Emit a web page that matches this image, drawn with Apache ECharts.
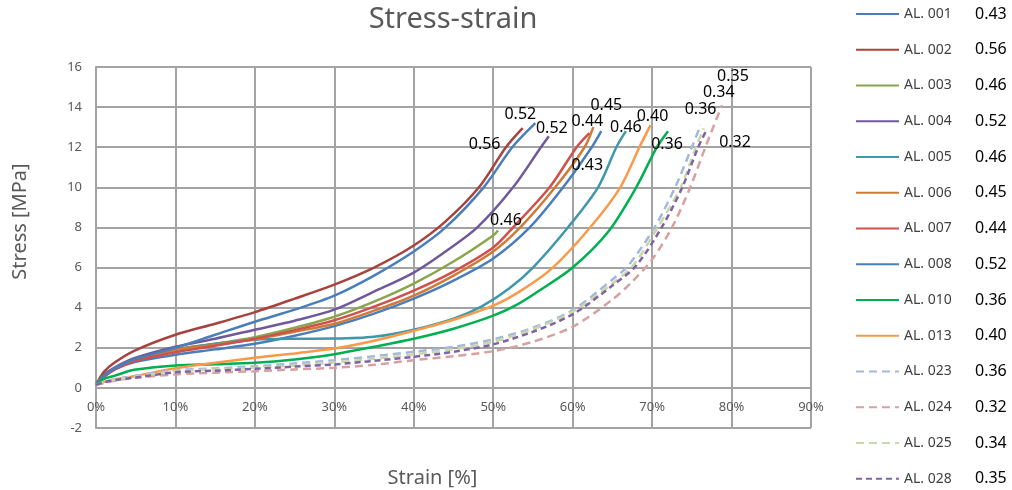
<!DOCTYPE html>
<html>
<head>
<meta charset="utf-8">
<script src="https://cdn.jsdelivr.net/npm/echarts@6/dist/echarts.min.js"></script>
<style>html,body{margin:0;padding:0;background:#fff}#chart{width:1012px;height:490px}</style>
</head>
<body>
<div id="chart"></div>
<script>
// ---- data (strain %, stress MPa) ----
const seriesNames = ['AL. 001','AL. 002','AL. 003','AL. 004','AL. 005','AL. 006','AL. 007','AL. 008','AL. 010','AL. 013','AL. 023','AL. 024','AL. 025','AL. 028'];
const labelValues = ['0.43','0.56','0.46','0.52','0.46','0.45','0.44','0.52','0.36','0.40','0.36','0.32','0.34','0.35'];

const AL001 = [[0,0.15],[1,0.55],[2.5,0.95],[5,1.3],[10,1.65],[15,1.92],[20,2.2],[25,2.6],[30,3.08],[35,3.7],[40,4.45],[45,5.35],[50,6.45],[54.6,8.0],[58.8,10.0],[62.4,12.0],[63.6,12.8]];
const AL002 = [[0,0.15],[1,0.8],[2.3,1.25],[4.8,1.85],[10,2.65],[15,3.2],[20,3.78],[25,4.45],[30,5.15],[35,6.0],[40,7.1],[44,8.3],[48.2,10.0],[51.6,12.0],[53.7,12.95]];
const AL003 = [[0,0.15],[1,0.6],[2.5,1.0],[5,1.4],[10,1.92],[15,2.2],[20,2.53],[25,3.0],[30,3.55],[35,4.3],[40,5.2],[45,6.3],[50,7.6],[50.6,7.85]];
const AL004 = [[0,0.15],[1,0.65],[2.5,1.05],[5,1.5],[10,2.05],[15,2.45],[20,2.9],[25,3.35],[30,3.9],[35,4.8],[40,5.75],[44,6.8],[48,8.0],[52.5,10.0],[56,12.0],[57,12.55]];
const AL005 = [[0,0.15],[1,0.6],[2.5,1.0],[5,1.4],[10,1.9],[15,2.2],[20,2.4],[25,2.45],[30,2.46],[35,2.55],[40,2.9],[45,3.45],[48.5,4.05],[52,4.95],[55,6.0],[59.4,8.0],[63.2,10.0],[65.5,12.0],[66.7,12.8]];
const AL006 = [[0,0.15],[1,0.6],[2.5,1.0],[5,1.4],[10,1.9],[15,2.15],[20,2.42],[25,2.8],[30,3.2],[35,3.85],[40,4.6],[45,5.6],[50,6.8],[53.4,8.0],[57.8,10.0],[61.5,12.0],[62.6,13.0]];
const AL007 = [[0,0.15],[1,0.55],[2.5,0.95],[5,1.35],[10,1.78],[15,2.1],[20,2.45],[25,2.88],[30,3.37],[35,4.05],[40,4.85],[45,5.8],[50,7.0],[52.5,8.0],[57.1,10.0],[60.5,12.0],[62.1,12.7]];
const AL008 = [[0,0.15],[1,0.6],[2.5,1.0],[5,1.45],[10,2.0],[15,2.65],[20,3.3],[25,3.9],[30,4.6],[35,5.6],[40,6.8],[44,8.0],[48.8,10.0],[52.4,12.0],[55.3,13.2]];
const AL010 = [[0,0.15],[1,0.45],[2.3,0.6],[4.8,0.9],[10,1.12],[15,1.18],[20,1.25],[25,1.42],[30,1.68],[35,2.05],[40,2.45],[45,2.95],[50,3.6],[53,4.15],[56,4.9],[60,6.0],[64.5,7.8],[68,10.0],[70.6,12.0],[72,12.8]];
const AL013 = [[0,0.15],[1,0.3],[2.3,0.42],[4.8,0.58],[10,0.98],[15,1.25],[20,1.5],[25,1.72],[30,1.96],[35,2.35],[40,2.85],[45,3.4],[50,4.1],[53.5,4.85],[57.5,6.0],[62.2,8.0],[66,10.0],[68.4,12.0],[69.8,13.1]];
const AL023 = [[0,0.15],[1,0.3],[2.3,0.42],[5,0.6],[10,0.88],[15,0.97],[20,1.08],[25,1.22],[30,1.38],[35,1.58],[40,1.8],[45,2.05],[50,2.42],[55,3.0],[60,3.88],[65,5.4],[67,6.1],[70.3,8.0],[72.9,10.0],[75,12.0],[76.1,13.1]];
const AL024 = [[0,0.15],[1,0.25],[2.3,0.36],[5,0.5],[10,0.67],[15,0.76],[20,0.83],[25,0.92],[30,1.0],[35,1.15],[40,1.38],[45,1.58],[50,1.83],[55,2.3],[60,3.05],[65,4.4],[67.5,5.3],[70,6.4],[72.5,8.0],[74.8,10.0],[76.7,12.0],[78.8,14.1]];
const AL025 = [[0,0.15],[1,0.28],[2.3,0.4],[5,0.56],[10,0.83],[15,0.92],[20,1.0],[25,1.12],[30,1.26],[35,1.45],[40,1.67],[45,1.93],[50,2.3],[55,2.92],[60,3.8],[65,5.2],[67.6,6.1],[70.7,8.0],[73.6,10.0],[75.5,12.0],[76.5,12.95]];
const AL028 = [[0,0.15],[1,0.27],[2.3,0.38],[5,0.52],[10,0.78],[15,0.86],[20,0.95],[25,1.06],[30,1.17],[35,1.35],[40,1.55],[45,1.8],[50,2.17],[55,2.8],[60,3.67],[65,5.1],[68,6.1],[71.2,8.0],[73.8,10.0],[75.8,12.0],[76.9,12.9]];

const seriesData = [AL001,AL002,AL003,AL004,AL005,AL006,AL007,AL008,AL010,AL013,AL023,AL024,AL025,AL028];

// ---- styles ----
const colors = ['#4A7EBB','#A8423F','#8AA64C','#70589A','#3E97AA','#CF7B38','#D1504C','#4A7EBB','#00B050','#F89A4A','#A4B8DC','#D8A0A0','#C9D8A8','#7F63A8'];
const dashes = ['solid','solid','solid','solid','solid','solid','solid','solid','solid','solid',[8,5],[8,5],[8,5],[6,4]];
const labelOffsets = [[-14,34],[-38,16],[8,-10],[3,-8],[0,-4],[13,-22],[-2,-12],[-15,-9],[-1,13],[2,-9],[0,-16],[13,37],[15,-36],[26,-53]];

const FONT = '"Noto Sans", "DejaVu Sans", sans-serif';
const GRID = '#A3A3A3';

const series = seriesNames.map((name, i) => {
  const pts = seriesData[i];
  const last = pts[pts.length - 1];
  return {
    name: name,
    type: 'line',
    data: pts,
    symbol: 'none',
    smooth: 0.3,
    lineStyle: { color: colors[i], width: 2.5, type: dashes[i] },
    itemStyle: { color: colors[i] },
    z: 3,
    markPoint: {
      symbol: 'circle',
      symbolSize: 0,
      silent: true,
      animation: false,
      data: [{ coord: last, value: labelValues[i] }],
      label: {
        show: true,
        position: 'inside',
        offset: labelOffsets[i],
        formatter: labelValues[i],
        color: '#000',
        fontSize: 16,
        fontFamily: FONT
      }
    }
  };
});

const chart = echarts.init(document.getElementById('chart'), null, { renderer: 'canvas' });
chart.setOption({
  animation: false,
  backgroundColor: '#fff',
  title: {
    text: 'Stress-strain',
    left: 448,
    top: 0,
    textAlign: 'center',
    textStyle: { fontFamily: FONT, fontSize: 29, fontWeight: 'normal', color: '#595959' }
  },
  grid: { left: 96, right: 201, top: 67, bottom: 62, containLabel: false, outerBoundsMode: 'none' },
  legend: {
    orient: 'vertical',
    left: 855,
    top: 6,
    bottom: 0,
    padding: 0,
    itemWidth: 43,
    itemHeight: 14,
    itemGap: 19.75,
    data: seriesNames,
    itemStyle: { opacity: 0 },
    formatter: function (name) {
      const i = seriesNames.indexOf(name);
      return '{n|' + name + '}{v|' + labelValues[i] + '}';
    },
    textStyle: {
      fontFamily: FONT,
      rich: {
        n: { width: 71, fontSize: 14, lineHeight: 14, color: '#404040', fontFamily: FONT },
        v: { fontSize: 16, lineHeight: 14, color: '#000', fontFamily: FONT }
      }
    }
  },
  xAxis: {
    type: 'value',
    min: 0,
    max: 90,
    interval: 10,
    name: 'Strain [%]',
    nameLocation: 'middle',
    nameGap: 40,
    nameTextStyle: { fontFamily: FONT, fontSize: 20, color: '#595959', padding: [0, 42, 0, 0] },
    axisLine: { show: true, onZero: true, lineStyle: { color: GRID, width: 2 } },
    axisTick: { show: false },
    axisLabel: { formatter: '{value}%', fontFamily: FONT, fontSize: 13, color: '#595959', margin: -27 },
    splitLine: { show: true, lineStyle: { color: GRID, width: 2 } }
  },
  yAxis: {
    type: 'value',
    min: -2,
    max: 16,
    interval: 2,
    name: 'Stress [MPa]',
    nameLocation: 'middle',
    nameGap: 66,
    nameTextStyle: { fontFamily: FONT, fontSize: 20, color: '#595959', padding: [0, 0, 0, 52] },
    axisLine: { show: true, lineStyle: { color: GRID, width: 2 } },
    axisTick: { show: false },
    axisLabel: { fontFamily: FONT, fontSize: 13, color: '#595959', margin: 14 },
    splitLine: { show: true, lineStyle: { color: GRID, width: 2 } }
  },
  series: series
});
</script>
</body>
</html>
